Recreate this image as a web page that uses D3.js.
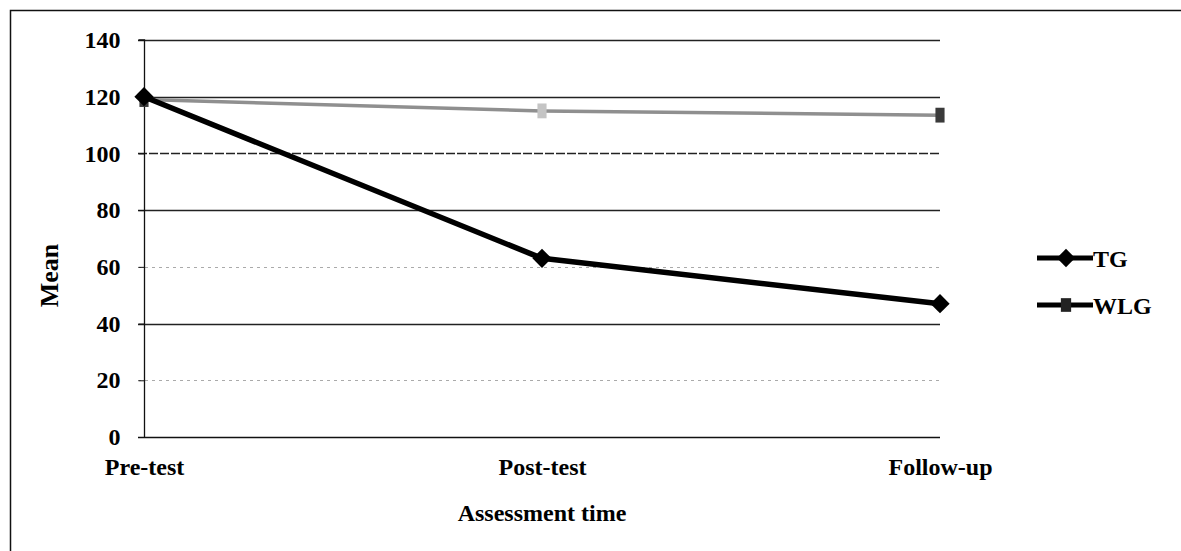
<!DOCTYPE html>
<html>
<head>
<meta charset="utf-8">
<script src="https://cdn.jsdelivr.net/npm/d3@7"></script>
<style>
  html, body { margin: 0; padding: 0; background: #fff; }
  svg { display: block; }
</style>
</head>
<body>
<svg id="chart" width="1181" height="551"></svg>
<script>
// Assessment points and group means
const categories = ["Pre-test", "Post-test", "Follow-up"];
const tgValues = [120, 63, 47];
const wlgValues = [119, 115, 113.5];
const seriesNames = ["TG", "WLG"];
const yTicks = [0, 20, 40, 60, 80, 100, 120, 140];

const svg = d3.select("#chart");
const W = 1181, H = 551;
const plot = { left: 144, right: 940, top: 40, bottom: 437 };
const font = "'Liberation Serif', 'Times New Roman', serif";

// Outer frame (left and top edges)
svg.append("path")
  .attr("d", `M10.5,${H} L10.5,10.5 L${W},10.5`)
  .attr("fill", "none").attr("stroke", "#111").attr("stroke-width", 1.5);

const x = d3.scalePoint().domain(categories).range([plot.left, plot.right]);
const y = d3.scaleLinear().domain([0, 140]).range([plot.bottom, plot.top]);

// Horizontal gridlines
const lightLines = new Set([20, 60]);
svg.append("g").selectAll("line")
  .data(yTicks.filter(d => d > 0))
  .join("line")
  .attr("x1", plot.left - 6).attr("x2", plot.right)
  .attr("y1", d => Math.round(y(d)) + 0.5).attr("y2", d => Math.round(y(d)) + 0.5)
  .attr("stroke", d => lightLines.has(d) ? "#aaa" : "#222")
  .attr("stroke-width", d => lightLines.has(d) ? 1 : 1.3)
  .attr("stroke-dasharray", d => lightLines.has(d) ? "3,4" : (d === 100 ? "9,2" : null));

// Y axis
const yAxis = svg.append("g")
  .attr("transform", `translate(${plot.left + 0.5},0)`)
  .call(d3.axisLeft(y).tickValues(yTicks).tickSize(6).tickPadding(18));
yAxis.select(".domain").attr("stroke", "#111").attr("stroke-width", 1.3)
  .attr("d", `M-6,${plot.top}H0V${plot.bottom}`);
yAxis.selectAll(".tick line").attr("stroke", "#111");
yAxis.selectAll("text")
  .attr("font-family", font).attr("font-weight", "bold").attr("font-size", 24).attr("fill", "#000");

// X axis
const xAxis = svg.append("g")
  .attr("transform", `translate(0,${plot.bottom + 0.5})`)
  .call(d3.axisBottom(x).tickSize(0).tickPadding(0));
xAxis.select(".domain").attr("stroke", "#111").attr("stroke-width", 1.6)
  .attr("d", `M${plot.left - 6},0H${plot.right}`);
xAxis.selectAll("text")
  .attr("font-family", font).attr("font-weight", "bold").attr("font-size", 24).attr("fill", "#000")
  .attr("y", 37).attr("dy", 0);

// Axis titles
svg.append("text")
  .attr("transform", `translate(58,${(plot.top + plot.bottom) / 2 + 37}) rotate(-90)`)
  .attr("text-anchor", "middle")
  .attr("font-family", font).attr("font-weight", "bold").attr("font-size", 26)
  .text("Mean");
svg.append("text")
  .attr("x", x("Post-test")).attr("y", 521)
  .attr("text-anchor", "middle")
  .attr("font-family", font).attr("font-weight", "bold").attr("font-size", 24)
  .text("Assessment time");

const line = d3.line().x((d, i) => x(categories[i])).y(d => y(d));
// Diamond drawn as a square turned 45 degrees
const diamond = d3.symbol().type(d3.symbolSquare).size(185);
const square = d3.symbol().type(d3.symbolSquare).size(130);

// WLG series
svg.append("path").datum(wlgValues)
  .attr("d", line).attr("fill", "none")
  .attr("stroke", "#8f8f8f").attr("stroke-width", 3.5);
svg.append("g").selectAll("path")
  .data(wlgValues).join("path")
  .attr("d", square)
  .attr("transform", (d, i) => `translate(${x(categories[i])},${y(d)}) scale(0.8,1.3)`)
  .attr("fill", (d, i) => i === 1 ? "#c4c4c4" : "#3a3a3a");

// TG series
svg.append("path").datum(tgValues)
  .attr("d", line).attr("fill", "none")
  .attr("stroke", "#000").attr("stroke-width", 5.5).attr("stroke-linejoin", "round");
svg.append("g").selectAll("path")
  .data(tgValues).join("path")
  .attr("d", diamond)
  .attr("transform", (d, i) => `translate(${x(categories[i])},${y(d)}) rotate(45)`)
  .attr("fill", "#000");

// Legend
const legend = svg.append("g");
const legendY = [258, 305];
seriesNames.forEach((name, i) => {
  const g = legend.append("g").attr("transform", `translate(1037,${legendY[i]})`);
  g.append("line").attr("x1", 0).attr("x2", 56).attr("y1", 0).attr("y2", 0)
    .attr("stroke", "#000").attr("stroke-width", 5);
  g.append("path").attr("d", i === 0 ? diamond : square)
    .attr("transform", i === 0 ? "translate(29,0) rotate(45) scale(0.95)" : "translate(29,0) scale(0.9,1.2)")
    .attr("fill", i === 0 ? "#000" : "#222");
  g.append("text").attr("x", 56).attr("y", 9)
    .attr("font-family", font).attr("font-weight", "bold").attr("font-size", 24)
    .text(name);
});
</script>
</body>
</html>
